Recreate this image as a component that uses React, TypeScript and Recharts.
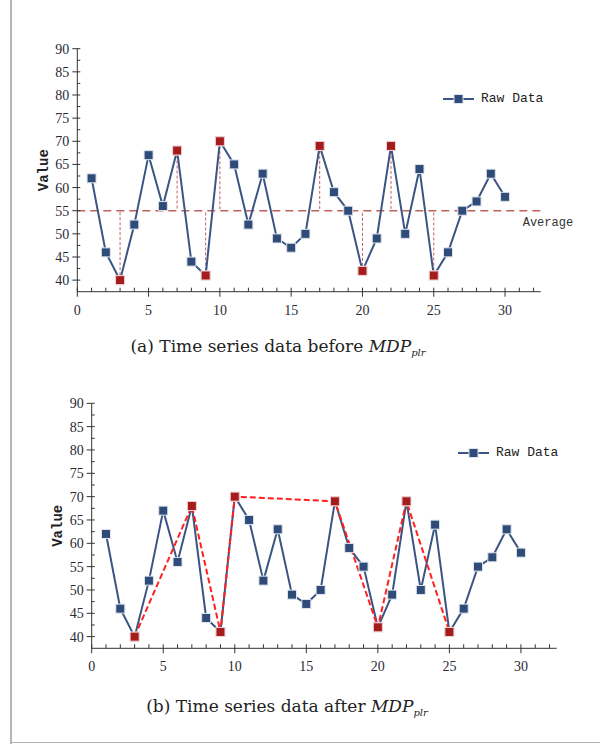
import React from "react";
import {
  LineChart,
  Line,
  XAxis,
  YAxis,
  ReferenceLine,
  Legend,
} from "recharts";

// ---- data ----
const xValues = [1, 2, 3, 4, 5, 6, 7, 8, 9, 10, 11, 12, 13, 14, 15, 16, 17, 18, 19, 20, 21, 22, 23, 24, 25, 26, 27, 28, 29, 30];
const rawValues = [62, 46, 40, 52, 67, 56, 68, 44, 41, 70, 65, 52, 63, 49, 47, 50, 69, 59, 55, 42, 49, 69, 50, 64, 41, 46, 55, 57, 63, 58];
const extremeX = [3, 7, 9, 10, 17, 20, 22, 25];
const extremeValues = [40, 68, 41, 70, 69, 42, 69, 41];
const averageValue = 55;
const xTicks = [0, 1, 2, 3, 4, 5, 6, 7, 8, 9, 10, 11, 12, 13, 14, 15, 16, 17, 18, 19, 20, 21, 22, 23, 24, 25, 26, 27, 28, 29, 30, 31, 32];
const yTicks = [40, 42.5, 45, 47.5, 50, 52.5, 55, 57.5, 60, 62.5, 65, 67.5, 70, 72.5, 75, 77.5, 80, 82.5, 85, 87.5, 90];
const xDomain = [0, 32.5];
const yDomain = [37.5, 90];
const seriesName = "Raw Data";
const yLabel = "Value";
const avgLabel = "Average";

const rawData = xValues.map((x, i) => ({ x, y: rawValues[i] }));
const extremeData = extremeX.map((x, i) => ({ x, y: extremeValues[i] }));

// ---- styles ----
const BLUE = "#2f4b78";
const BLUE_LINE = "#3a5583";
const DARK_RED = "#a51c1c";
const AVG_RED = "#c0605e";
const BRIGHT_RED = "#ff1f1f";
const AXIS = "#333";
const TICK_FONT = "'Liberation Serif', serif";
const CAPTION_FONT = "'DejaVu Serif', serif";
const MONO = "'Liberation Mono', monospace";

const XTick = (props: any) => {
  const { x, y, payload } = props;
  const v = payload.value;
  const major = v % 5 === 0;
  return (
    <g>
      <line x1={x} x2={x} y1={y - 4} y2={major ? y + 5 : y} stroke={AXIS} strokeWidth={1} />
      {major && (
        <text x={x} y={y + 13} dy="0.71em" textAnchor="middle" fontFamily={TICK_FONT} fontSize={14} fill="#2a2a35">
          {v}
        </text>
      )}
    </g>
  );
};

const YTick = (props: any) => {
  const { x, y, payload } = props;
  const v = payload.value;
  const major = v % 5 === 0;
  return (
    <g>
      <line x1={major ? x - 5 : x} x2={x + 3} y1={y} y2={y} stroke={AXIS} strokeWidth={1} />
      {major && (
        <text x={x - 8} y={y} dy="0.355em" textAnchor="end" fontFamily={TICK_FONT} fontSize={14} fill="#2a2a35">
          {v}
        </text>
      )}
    </g>
  );
};

const square = (fill: string, stroke: string, keyPrefix: string) => (p: any) => {
  if (p.cx == null || p.cy == null) return <g key={`${keyPrefix}-${p.index}`} />;
  return (
    <rect
      key={`${keyPrefix}-${p.index}`}
      x={p.cx - 4.5}
      y={p.cy - 4.5}
      width={9}
      height={9}
      fill={fill}
      stroke={stroke}
      strokeWidth={1}
    />
  );
};

const ValueLabel = (props: any) => {
  const vb = props.viewBox || {};
  const cx = vb.x + vb.width - 34.5;
  const cy = vb.y + vb.height / 2;
  return (
    <text
      x={cx}
      y={cy}
      textAnchor="middle"
      dy="0.355em"
      transform={`rotate(-90 ${cx} ${cy})`}
      fontFamily={MONO}
      fontWeight="bold"
      fontSize={14}
      fill="#222"
    >
      {yLabel}
    </text>
  );
};

const AvgLabel = (props: any) => {
  const vb = props.viewBox || {};
  return (
    <text
      x={vb.x + vb.width - 18}
      y={vb.y + 11}
      dy="0.355em"
      textAnchor="start"
      fontFamily={MONO}
      fontSize={12}
      fill="#333"
    >
      {avgLabel}
    </text>
  );
};

const LegendContent = () => (
  <div style={{ display: "flex", alignItems: "center", height: 16 }}>
    <svg width={31} height={12} style={{ display: "block" }}>
      <line x1={0} x2={31} y1={6} y2={6} stroke={BLUE_LINE} strokeWidth={2} />
      <rect x={11} y={1.5} width={9} height={9} fill={BLUE} stroke="#dfe4ee" strokeWidth={1} />
    </svg>
    <span style={{ marginLeft: 7, fontFamily: MONO, fontSize: 13, color: "#222", lineHeight: "16px" }}>
      {seriesName}
    </span>
  </div>
);

const Caption = ({ letter, top, center }: { letter: string; top: number; center: number }) => (
  <div
    style={{
      position: "absolute",
      top,
      left: center - 250,
      width: 500,
      textAlign: "center",
      fontFamily: CAPTION_FONT,
      fontSize: 17,
      color: "#222",
      whiteSpace: "nowrap",
    }}
  >
    ({letter}) Time series data {letter === "a" ? "before" : "after"}{" "}
    <i>MDP</i>
    <sub style={{ fontSize: 10, fontStyle: "italic" }}>plr</sub>
  </div>
);

export default function App() {
  return (
    <div
      style={{
        position: "absolute",
        left: 0,
        top: 0,
        width: 600,
        height: 744,
        background: "#fff",
        overflow: "hidden",
      }}
    >
      <div style={{ position: "absolute", left: 10, top: 0, width: 1.5, height: 744, background: "#b5b5b5" }} />
      <div style={{ position: "absolute", left: 10, top: 741.5, width: 590, height: 1.5, background: "#b5b5b5" }} />

      {/* Chart (a) */}
      <div style={{ position: "absolute", left: 0, top: 0 }}>
        <LineChart width={600} height={320} margin={{ top: 48.7, right: 59.3, left: 0, bottom: 0 }}>
          <XAxis
            dataKey="x"
            type="number"
            domain={xDomain}
            ticks={xTicks}
            interval={0}
            tickSize={0}
            tickMargin={0}
            tickLine={false}
            tick={<XTick />}
            height={28.3}
            stroke={AXIS}
            allowDataOverflow
          />
          <YAxis
            dataKey="y"
            type="number"
            domain={yDomain}
            ticks={yTicks}
            interval={0}
            tickSize={0}
            tickMargin={0}
            tickLine={false}
            tick={<YTick />}
            width={77.3}
            stroke={AXIS}
            allowDataOverflow
            label={<ValueLabel />}
          />
          <ReferenceLine y={averageValue} stroke={AVG_RED} strokeWidth={1.5} strokeDasharray="8 5" label={<AvgLabel />} />
          {extremeData.map((d, i) => (
            <ReferenceLine
              key={`seg-${i}`}
              segment={[
                { x: d.x, y: d.y },
                { x: d.x, y: averageValue },
              ]}
              stroke={AVG_RED}
              strokeWidth={1}
              strokeDasharray="3 2"
            />
          ))}
          <Legend
            layout="vertical"
            align="center"
            verticalAlign="middle"
            content={<LegendContent />}
            wrapperStyle={{ position: "absolute", left: 443, top: 91, width: "auto" }}
          />
          <Line
            data={rawData}
            dataKey="y"
            name={seriesName}
            stroke={BLUE_LINE}
            strokeWidth={2}
            dot={square(BLUE, "#dfe4ee", "ra")}
            isAnimationActive={false}
            legendType="none"
          />
          <Line
            data={extremeData}
            dataKey="y"
            name="extremes"
            stroke="none"
            dot={square(DARK_RED, "#f2d4d4", "ea")}
            isAnimationActive={false}
            legendType="none"
          />
        </LineChart>
      </div>
      <Caption letter="a" top={336} center={278} />

      {/* Chart (b) */}
      <div style={{ position: "absolute", left: 0, top: 355 }}>
        <LineChart width={600} height={320} margin={{ top: 48.3, right: 43.3, left: 0, bottom: 0 }}>
          <XAxis
            dataKey="x"
            type="number"
            domain={xDomain}
            ticks={xTicks}
            interval={0}
            tickSize={0}
            tickMargin={0}
            tickLine={false}
            tick={<XTick />}
            height={26.7}
            stroke={AXIS}
            allowDataOverflow
          />
          <YAxis
            dataKey="y"
            type="number"
            domain={yDomain}
            ticks={yTicks}
            interval={0}
            tickSize={0}
            tickMargin={0}
            tickLine={false}
            tick={<YTick />}
            width={91.7}
            stroke={AXIS}
            allowDataOverflow
            label={<ValueLabel />}
          />
          <Legend
            layout="vertical"
            align="center"
            verticalAlign="middle"
            content={<LegendContent />}
            wrapperStyle={{ position: "absolute", left: 458, top: 90, width: "auto" }}
          />
          <Line
            data={rawData}
            dataKey="y"
            name={seriesName}
            stroke={BLUE_LINE}
            strokeWidth={2}
            dot={square(BLUE, "#dfe4ee", "rb")}
            isAnimationActive={false}
            legendType="none"
          />
          <Line
            data={extremeData}
            dataKey="y"
            name="segments"
            stroke={BRIGHT_RED}
            strokeWidth={2}
            strokeDasharray="6 3"
            dot={square(DARK_RED, "#f2d4d4", "eb")}
            isAnimationActive={false}
            legendType="none"
          />
        </LineChart>
      </div>
      <Caption letter="b" top={696} center={287} />
    </div>
  );
}
